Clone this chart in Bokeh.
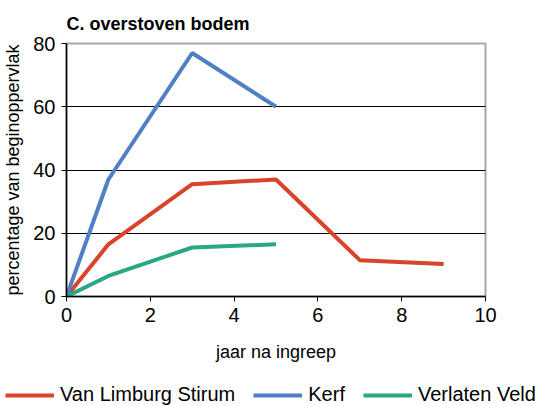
from bokeh.plotting import figure
from bokeh.layouts import column
from bokeh.models import Legend, LegendItem, FixedTicker, Range1d
from bokeh.embed import file_html
from bokeh.resources import INLINE

years_vls = [0, 1, 3, 5, 7, 9]
vls = [0, 16.5, 35.5, 37, 11.5, 10.3]
years_kerf = [0, 1, 3, 5]
kerf = [0, 37, 77, 60]
years_vv = [0, 1, 3, 5]
vv = [0, 6.5, 15.5, 16.5]
x_ticks = [0, 2, 4, 6, 8, 10]
y_ticks = [0, 20, 40, 60, 80]
series_names = ["Van Limburg Stirum", "Kerf", "Verlaten Veld"]
series_colors = ["#d8432a", "#4f7fc4", "#2aa784"]

FONT = "Liberation Sans"

p = figure(frame_width=419, frame_height=253, output_backend="svg", toolbar_location=None,
           x_range=Range1d(0, 10), y_range=Range1d(0, 80),
           min_border_left=66, min_border_right=52, min_border_top=43, min_border_bottom=74)

p.title.text = "C. overstoven bodem"
p.title.text_font = FONT
p.title.text_font_style = "bold"
p.title.text_font_size = "18px"
p.title.text_color = "black"
p.title.align = "left"
p.title.offset = 0
p.title.standoff = 20

series = [(years_vls, vls), (years_kerf, kerf), (years_vv, vv)]
for (xs, ys), col in zip(series, series_colors):
    p.line(xs, ys, line_color=col, line_width=4)

p.xaxis.ticker = FixedTicker(ticks=x_ticks)
p.yaxis.ticker = FixedTicker(ticks=y_ticks)
p.xaxis.minor_tick_line_color = None
p.yaxis.minor_tick_line_color = None
for ax in (p.xaxis, p.yaxis):
    ax.axis_line_color = "black"
    ax.axis_line_width = 1.5
    ax.major_tick_line_color = "black"
    ax.major_tick_in = 0
    ax.major_tick_out = 5
    ax.major_label_text_font = FONT
    ax.major_label_text_font_size = "20px"
    ax.major_label_text_color = "black"
    ax.axis_label_text_font = FONT
    ax.axis_label_text_font_size = "18px"
    ax.axis_label_text_font_style = "normal"
    ax.axis_label_text_color = "black"
p.xaxis.axis_label = "jaar na ingreep"
p.yaxis.axis_label = "percentage van beginoppervlak"
p.xaxis.major_label_standoff = 6
p.yaxis.major_label_standoff = 6
p.xaxis.axis_label_standoff = 17
p.yaxis.axis_label_standoff = 7

p.xgrid.grid_line_color = None
p.ygrid.ticker = FixedTicker(ticks=[20, 40, 60])
p.ygrid.grid_line_color = "black"
p.ygrid.grid_line_width = 1

p.outline_line_color = "#a6a6a6"
p.outline_line_width = 2

# legend strip below the chart (series drawn outside its visible range)
lg = figure(frame_width=537, frame_height=36, output_backend="svg", toolbar_location=None,
            x_range=Range1d(0, 10), y_range=Range1d(1000, 1001),
            min_border_left=0, min_border_right=0, min_border_top=0, min_border_bottom=0)
lg.axis.visible = False
lg.grid.visible = False
lg.outline_line_color = None
items = []
for name, col, (xs, ys) in zip(series_names, series_colors, series):
    r = lg.line(xs, ys, line_color=col, line_width=4)
    items.append(LegendItem(label=name, renderers=[r]))

legend = Legend(items=items, orientation="horizontal", location=(5, 0),
                label_text_font=FONT, label_text_font_size="20px",
                label_text_color="black", label_standoff=6,
                glyph_width=49, spacing=18, border_line_color=None,
                background_fill_alpha=0, padding=0, margin=0)
lg.add_layout(legend, "center")

layout = column(p, lg, spacing=0)
open("out.html", "w").write(file_html(layout, INLINE))
